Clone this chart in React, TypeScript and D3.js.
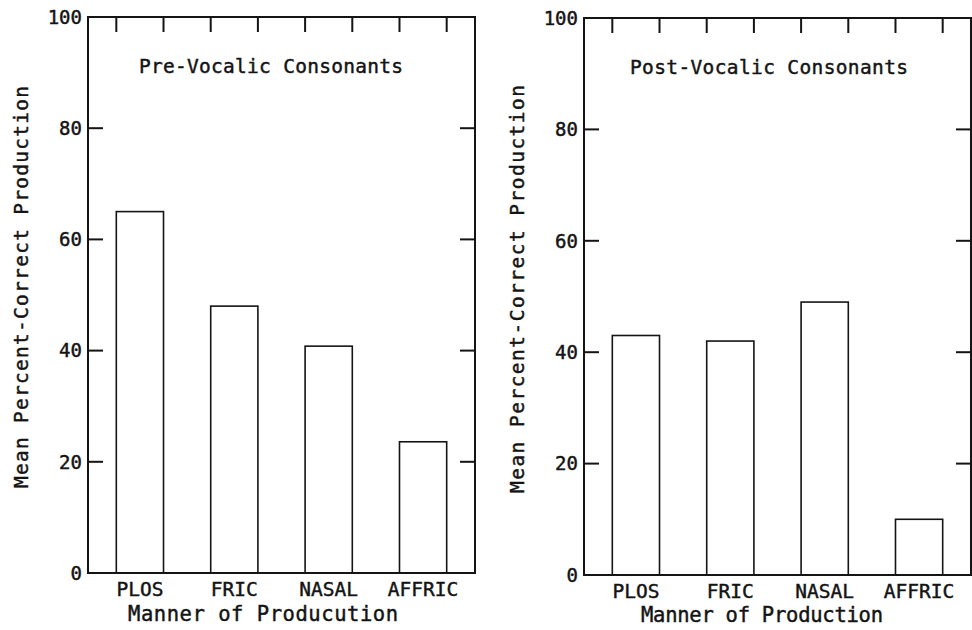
import React from "react";
import * as d3 from "d3";

const categories = ["PLOS", "FRIC", "NASAL", "AFFRIC"];
const preVocalic = [65, 48, 40.8, 23.6];
const postVocalic = [43, 42, 49, 10];
const yTicks = [0, 20, 40, 60, 80, 100];
const titles = ["Pre-Vocalic Consonants", "Post-Vocalic Consonants"];
const xTitles = ["Manner of Producution", "Manner of Production"];
const yTitle = "Mean Percent-Correct Production";

const FONT = "'DejaVu Sans Mono', 'Liberation Mono', monospace";
const INK = "#141414";
const TS = { stroke: INK, strokeWidth: 0.45 } as const;

type PanelProps = {
  values: number[];
  x0: number; x1: number; yTop: number; yBot: number;
  title: string; titleX: number; titleY: number; titleLen: number;
  xTitle: string; xTitleX: number; xTitleY: number; xTitleLen: number;
  yTitleX: number; yTitleY: number; yTitleLen: number;
  catY: number;
};

function Panel(p: PanelProps) {
  const x = d3.scaleBand<string>().domain(categories).range([p.x0, p.x1]).paddingInner(0.5).paddingOuter(0.3);
  const y = d3.scaleLinear().domain([0, 100]).range([p.yBot, p.yTop]);
  const tl = 15;
  const edges: number[] = [];
  categories.forEach((c) => {
    edges.push(x(c)!);
    edges.push(x(c)! + x.bandwidth());
  });
  return (
    <g>
      {categories.map((c, i) => (
        <rect key={c} x={x(c)} y={y(p.values[i])} width={x.bandwidth()} height={y(0) - y(p.values[i])}
          fill="none" stroke={INK} strokeWidth={1.6} />
      ))}
      <rect x={p.x0} y={p.yTop} width={p.x1 - p.x0} height={p.yBot - p.yTop} fill="none" stroke={INK} strokeWidth={2} />
      {yTicks.map((t) => (
        <g key={t}>
          <line x1={p.x0} x2={p.x0 + tl} y1={y(t)} y2={y(t)} stroke={INK} strokeWidth={2} />
          <line x1={p.x1 - tl} x2={p.x1} y1={y(t)} y2={y(t)} stroke={INK} strokeWidth={2} />
          <text x={p.x0 - 6} y={y(t)} dy="0.36em" textAnchor="end" fontFamily={FONT} fontSize={19} fill={INK} {...TS}>{t}</text>
        </g>
      ))}
      {edges.map((e, i) => (
        <line key={i} x1={e} x2={e} y1={p.yTop} y2={p.yTop + tl} stroke={INK} strokeWidth={2} />
      ))}
      {categories.map((c) => (
        <text key={c} x={x(c)! + x.bandwidth() / 2} y={p.catY} textAnchor="middle" fontFamily={FONT} fontSize={19.5} fill={INK} {...TS}>{c}</text>
      ))}
      <text x={p.titleX} y={p.titleY} textAnchor="middle" fontFamily={FONT} fontSize={19.5} fill={INK} {...TS}
        textLength={p.titleLen} lengthAdjust="spacing">{p.title}</text>
      <text x={p.xTitleX} y={p.xTitleY} textAnchor="middle" fontFamily={FONT} fontSize={20.5} fill={INK} {...TS}
        textLength={p.xTitleLen} lengthAdjust="spacing">{p.xTitle}</text>
      <text transform={`translate(${p.yTitleX},${p.yTitleY}) rotate(-90)`} textAnchor="middle" fontFamily={FONT} fontSize={19.5} fill={INK} {...TS}
        textLength={p.yTitleLen} lengthAdjust="spacing">{yTitle}</text>
    </g>
  );
}

export default function App() {
  return (
    <svg width={972} height={630} style={{ position: "absolute", left: 0, top: 0, background: "#fff" }}>
      <rect width={972} height={630} fill="#fff" />
      <Panel values={preVocalic} x0={88} x1={475} yTop={17} yBot={573}
        title={titles[0]} titleX={271} titleY={73} titleLen={264}
        xTitle={xTitles[0]} xTitleX={263} xTitleY={621} xTitleLen={270}
        yTitleX={28} yTitleY={287} yTitleLen={402} catY={596} />
      <Panel values={postVocalic} x0={584} x1={971} yTop={18} yBot={575}
        title={titles[1]} titleX={769} titleY={74} titleLen={278}
        xTitle={xTitles[1]} xTitleX={762} xTitleY={622} xTitleLen={242}
        yTitleX={524} yTitleY={289} yTitleLen={408} catY={598} />
    </svg>
  );
}
